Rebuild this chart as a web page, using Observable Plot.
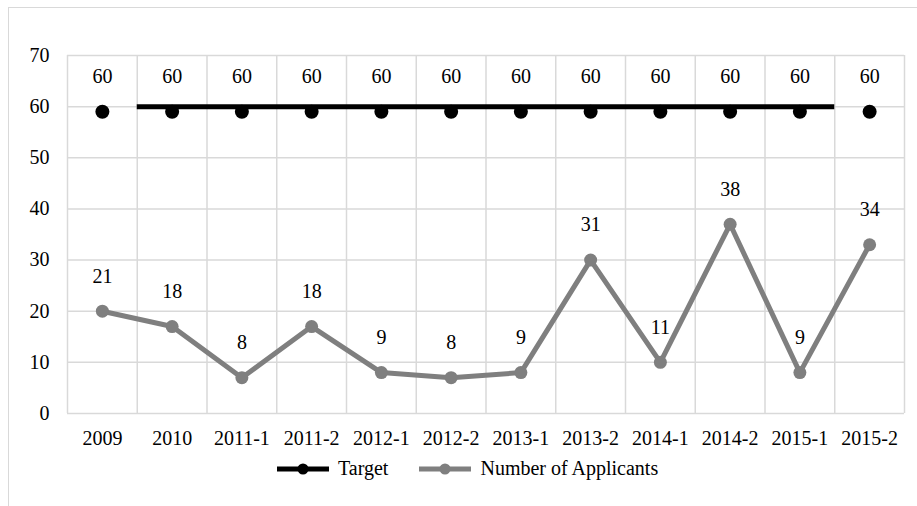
<!DOCTYPE html>
<html><head><meta charset="utf-8">
<script src="https://cdn.jsdelivr.net/npm/d3@7"></script>
<script src="https://cdn.jsdelivr.net/npm/@observablehq/plot@0.6"></script>
<style>
body{margin:0;background:#fff;font-family:"Liberation Serif","Times New Roman",serif;}
#wrap{position:relative;width:917px;height:506px;overflow:hidden;background:#fff;}
#frame{position:absolute;left:8px;top:7px;width:1000px;height:1000px;border-left:1.5px solid #d9d9d9;border-top:1.5px solid #d9d9d9;box-sizing:border-box;}
#chart{position:absolute;left:0;top:0;}
#legend{position:absolute;top:457px;left:277px;display:flex;align-items:center;font-size:20px;color:#000;white-space:nowrap;}
#legend .sw{display:block;margin-right:9px;}
#legend .lab{margin-right:31px;}
</style>
</head><body>
<div id="wrap"><div id="frame"></div><div id="chart"></div><div id="legend"></div></div>
<script>
const categories = ["2009","2010","2011-1","2011-2","2012-1","2012-2","2013-1","2013-2","2014-1","2014-2","2015-1","2015-2"];
const applicants = [20,17,7,17,8,7,8,30,10,37,8,33];
const applicantLabels = [21,18,8,18,9,8,9,31,11,38,9,34];
const target = [59,59,59,59,59,59,59,59,59,59,59,59];
const targetLabels = [60,60,60,60,60,60,60,60,60,60,60,60];
const targetLineValue = 60;
const targetLineFrom = "2010";
const targetLineTo = "2015-1";
const yTicks = [0,10,20,30,40,50,60,70];
const seriesNames = ["Target","Number of Applicants"];
const seriesColors = ["#000000","#7f7f7f"];

const idx = categories.map((c,i)=>i);
const bounds = d3.range(categories.length+1).map(i=>i-0.5);
const grid = "#d9d9d9";
const fs = 20;

const chart = Plot.plot({
  width: 917, height: 455,
  marginLeft: 67, marginRight: 13, marginTop: 55, marginBottom: 42,
  style: {fontFamily: '"Liberation Serif","Times New Roman",serif', fontSize: fs+"px", color:"#000", background:"transparent"},
  x: {type:"linear", domain:[-0.5, categories.length-0.5], axis:null},
  y: {domain:[0,70], axis:null},
  marks: [
    Plot.ruleY(yTicks, {stroke:grid, strokeWidth:1.5}),
    Plot.ruleX(bounds, {y1:0, y2:70, stroke:grid, strokeWidth:1.5}),
    Plot.axisY(yTicks, {tickSize:0, tickPadding:18, fontSize:fs, fill:"#000"}),
    Plot.axisX(idx, {tickSize:0, tickPadding:17, fontSize:fs, fill:"#000", tickFormat: i=>categories[i]}),
    Plot.lineY(idx, {x:i=>i, y:i=>applicants[i], stroke:seriesColors[1], strokeWidth:5}),
    Plot.dot(idx, {x:i=>i, y:i=>applicants[i], r:6.5, fill:seriesColors[1]}),
    Plot.ruleY([targetLineValue], {x1: categories.indexOf(targetLineFrom)-0.5, x2: categories.indexOf(targetLineTo)+0.5, stroke:seriesColors[0], strokeWidth:5}),
    Plot.dot(idx, {x:i=>i, y:i=>target[i], r:7, fill:seriesColors[0]}),
    Plot.text(idx, {x:i=>i, y:i=>target[i], text:i=>String(targetLabels[i]), dy:-35, fontSize:fs, fill:"#000"}),
    Plot.text(idx, {x:i=>i, y:i=>applicants[i], text:i=>String(applicantLabels[i]), dy:-35, fontSize:fs, fill:"#000"})
  ]
});
document.getElementById("chart").appendChild(chart);

const leg = document.getElementById("legend");
seriesNames.forEach((n,k)=>{
  const s = d3.create("svg").attr("class","sw").attr("width",52).attr("height",20);
  s.append("line").attr("x1",0).attr("x2",52).attr("y1",10).attr("y2",10).attr("stroke",seriesColors[k]).attr("stroke-width",5);
  s.append("circle").attr("cx",26).attr("cy",10).attr("r",5.5).attr("fill",seriesColors[k]);
  leg.appendChild(s.node());
  const t = document.createElement("span"); t.className="lab"; t.textContent=n; leg.appendChild(t);
});
</script>
</body></html>
